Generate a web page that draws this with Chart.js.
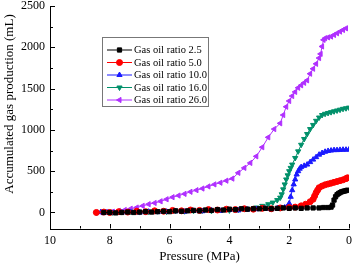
<!DOCTYPE html>
<html><head><meta charset="utf-8">
<script src="https://cdn.jsdelivr.net/npm/chart.js@4.4.0/dist/chart.umd.min.js"></script>
<style>html,body{margin:0;padding:0;background:#fff}#wrap{width:354px;height:264px}</style>
</head><body><div id="wrap"><canvas id="c" width="354" height="264"></canvas></div>
<script>
// ---- data ----
const SERIES_LABELS = ['Gas oil ratio 2.5','Gas oil ratio 5.0','Gas oil ratio 10.0','Gas oil ratio 16.0','Gas oil ratio 26.0'];
const P_25 = [8.2,8.0,7.8,7.6,7.4,7.2,7.0,6.8,6.6,6.4,6.2,6.0,5.8,5.6,5.4,5.2,5.0,4.8,4.6,4.4,4.2,4.0,3.8,3.6,3.4,3.2,3.0,2.8,2.6,2.4,2.2,2.0,1.8,1.6,1.4,1.2,1.0,0.85,0.7,0.6,0.55,0.5,0.45,0.4,0.35,0.3,0.25,0.2,0.15,0.1,0.05];
const V_25 = [0,0,-5,0,5,0,5,10,5,10,15,10,20,15,20,25,20,30,25,35,30,40,35,45,40,45,45,50,45,50,55,50,55,50,55,55,55,60,60,65,90,150,190,215,230,240,250,255,260,265,270];
const P_50 = [8.45,8.2,8.0,7.7,7.4,7.1,6.8,6.5,6.2,5.9,5.6,5.3,5.0,4.7,4.4,4.1,3.8,3.5,3.2,2.9,2.6,2.3,2.0,1.8,1.6,1.45,1.3,1.2,1.15,1.1,1.05,1.0,0.9,0.8,0.7,0.6,0.5,0.4,0.3,0.2,0.1,0.05];
const V_50 = [0,5,0,10,5,15,10,20,15,25,20,30,25,35,30,40,35,45,40,50,45,55,60,65,80,100,130,160,200,240,270,300,320,335,345,355,365,375,385,395,410,420];
const P_100 = [8.3,8.1,7.9,7.6,7.3,7.0,6.7,6.4,6.1,5.8,5.5,5.2,4.9,4.6,4.3,4.0,3.7,3.4,3.1,2.8,2.6,2.4,2.25,2.15,2.05,2.0,1.95,1.9,1.85,1.8,1.75,1.7,1.65,1.6,1.5,1.4,1.3,1.2,1.1,1.0,0.9,0.8,0.7,0.6,0.5,0.4,0.3,0.2,0.1,0.0];
const V_100 = [5,0,-5,0,5,0,10,5,10,15,10,20,15,25,20,30,25,35,40,45,40,50,55,60,75,110,190,270,340,400,460,500,530,550,565,580,610,640,670,700,720,735,745,750,755,755,758,760,760,762];
const P_160 = [8.45,8.2,7.9,7.6,7.3,7.0,6.7,6.4,6.1,5.8,5.5,5.2,4.9,4.6,4.3,4.0,3.7,3.4,3.1,2.9,2.7,2.55,2.4,2.3,2.25,2.2,2.15,2.1,2.05,2.0,1.95,1.9,1.8,1.7,1.6,1.5,1.4,1.3,1.2,1.1,1.0,0.9,0.8,0.7,0.6,0.5,0.4,0.3,0.2,0.1,0.0];
const V_160 = [0,5,0,5,10,5,10,15,10,20,15,20,25,20,30,25,35,45,60,80,100,120,150,180,220,280,340,400,450,500,540,580,660,740,820,890,950,1010,1060,1110,1150,1180,1195,1205,1215,1225,1235,1245,1255,1262,1270];
const P_260 = [8.45,8.3,8.1,7.9,7.7,7.5,7.3,7.1,6.9,6.7,6.5,6.3,6.1,5.9,5.7,5.5,5.3,5.1,4.9,4.7,4.5,4.3,4.1,3.9,3.7,3.5,3.3,3.1,2.9,2.7,2.5,2.3,2.2,2.1,2.0,1.9,1.8,1.7,1.6,1.5,1.4,1.3,1.2,1.1,1.0,0.95,0.9,0.85,0.8,0.7,0.6,0.5,0.4,0.3,0.2,0.1];
const V_260 = [0,0,5,10,20,30,45,60,80,100,115,135,160,185,205,225,250,270,290,315,340,360,385,410,480,540,600,680,790,910,1010,1080,1180,1280,1350,1410,1460,1510,1540,1570,1600,1680,1740,1800,1870,1920,2010,2090,2110,2120,2130,2150,2170,2190,2210,2230];
const X_TICKS = [10,8,6,4,2,0];
const X_MINOR = [9,7,5,3,1];
const Y_TICKS = [0,500,1000,1500,2000,2500];
const Y_MINOR = [250,750,1250,1750,2250];
const X_TITLE = 'Pressure (MPa)';
const Y_TITLE = 'Accumulated gas production (mL)';

const COLORS = ['#000000','#ff0000','#1a1aff','#00906a','#b030ff'];
const STYLES = ['rect','circle','triangle','triangle','triangle'];
const ROTS = [0,0,0,180,-90];
const PS = [P_25,P_50,P_100,P_160,P_260];
const VS = [V_25,V_50,V_100,V_160,V_260];

const FONT = '"Liberation Serif", "Times New Roman", serif';

const datasets = SERIES_LABELS.map((lab,i)=>({
  label: lab,
  data: PS[i].map((p,k)=>({x:p,y:VS[i][k]})),
  borderColor: COLORS[i],
  backgroundColor: COLORS[i],
  borderWidth: 1,
  pointStyle: STYLES[i],
  pointRotation: ROTS[i],
  pointRadius: 3,
  pointBorderWidth: 1,
  tension: 0,
  showLine: true
}));

const inwardTicks = {
  id:'inwardTicks',
  afterDraw(chart){
    const ctx=chart.ctx, xs=chart.scales.x, ys=chart.scales.y, a=chart.chartArea;
    ctx.save();
    ctx.strokeStyle='#000'; ctx.lineWidth=1;
    ctx.beginPath();
    const xb=Math.round(a.bottom)-0.5, yl=Math.round(a.left)+0.5;
    X_TICKS.forEach(v=>{const px=Math.round(xs.getPixelForValue(v))+0.5; ctx.moveTo(px,xb); ctx.lineTo(px,xb-4.5);});
    X_MINOR.forEach(v=>{const px=Math.round(xs.getPixelForValue(v))+0.5; ctx.moveTo(px,xb); ctx.lineTo(px,xb-2.5);});
    Y_TICKS.forEach(v=>{const py=Math.round(ys.getPixelForValue(v))+0.5; ctx.moveTo(yl,py); ctx.lineTo(yl+4.5,py);});
    Y_MINOR.forEach(v=>{const py=Math.round(ys.getPixelForValue(v))+0.5; ctx.moveTo(yl,py); ctx.lineTo(yl+2.5,py);});
    ctx.stroke();
    // y title
    ctx.fillStyle='#000';
    ctx.font='13px '+FONT;
    ctx.textAlign='center'; ctx.textBaseline='middle';
    ctx.translate(10,104); ctx.rotate(-Math.PI/2);
    ctx.fillText(Y_TITLE,0,0);
    ctx.restore();
  }
};

const legendBox = {
  id:'legendBox',
  afterDatasetsDraw(chart){
    const ctx=chart.ctx;
    const x0=102,y0=37,w=106,h=69;
    ctx.save();
    ctx.fillStyle='#fff'; ctx.fillRect(x0,y0,w,h);
    ctx.strokeStyle='#777'; ctx.lineWidth=1; ctx.strokeRect(x0+0.5,y0+0.5,w,h);
    chart.data.datasets.forEach((ds,i)=>{
      const cy=50+i*12.5;
      ctx.strokeStyle=ds.borderColor; ctx.fillStyle=ds.backgroundColor; ctx.lineWidth=1;
      ctx.beginPath(); ctx.moveTo(107,cy); ctx.lineTo(132,cy); ctx.stroke();
      Chart.helpers.drawPoint(ctx,{pointStyle:ds.pointStyle,rotation:ds.pointRotation,radius:3,borderWidth:1},119.5,cy);
      ctx.fillStyle='#000';
      ctx.font='10.5px '+FONT;
      ctx.textAlign='left'; ctx.textBaseline='middle';
      ctx.fillText(ds.label,134,cy+0.5);
    });
    ctx.restore();
  }
};

new Chart(document.getElementById('c'),{
  type:'line',
  data:{datasets},
  options:{
    responsive:false,
    animation:false,
    devicePixelRatio:1,
    layout:{padding:{left:0,right:4,top:6,bottom:0}},
    plugins:{legend:{display:false},tooltip:{enabled:false}},
    scales:{
      x:{
        type:'linear', reverse:true, min:0, max:10,
        afterBuildTicks(s){ s.ticks = X_TICKS.map(v=>({value:v})); },
        afterFit(s){ s.height=35; s.paddingLeft=0; s.paddingRight=0; },
        ticks:{color:'#000',font:{family:FONT,size:12},padding:5,maxRotation:0,autoSkip:false,callback:v=>String(v)},
        grid:{display:true,drawOnChartArea:false,drawTicks:false},
        border:{display:true,color:'#000',width:1},
        title:{display:true,text:X_TITLE,color:'#000',font:{family:FONT,size:13},padding:{top:1,bottom:0}}
      },
      y:{
        type:'linear', min:-200, max:2500,
        afterBuildTicks(s){ s.ticks = Y_TICKS.map(v=>({value:v})); },
        afterFit(s){ s.width=50; s.paddingTop=0; s.paddingBottom=0; },
        ticks:{color:'#000',font:{family:FONT,size:12},padding:5,autoSkip:false,callback:v=>String(v)},
        grid:{display:true,drawOnChartArea:false,drawTicks:false},
        border:{display:true,color:'#000',width:1}
      }
    }
  },
  plugins:[legendBox,inwardTicks]
});
</script></body></html>
